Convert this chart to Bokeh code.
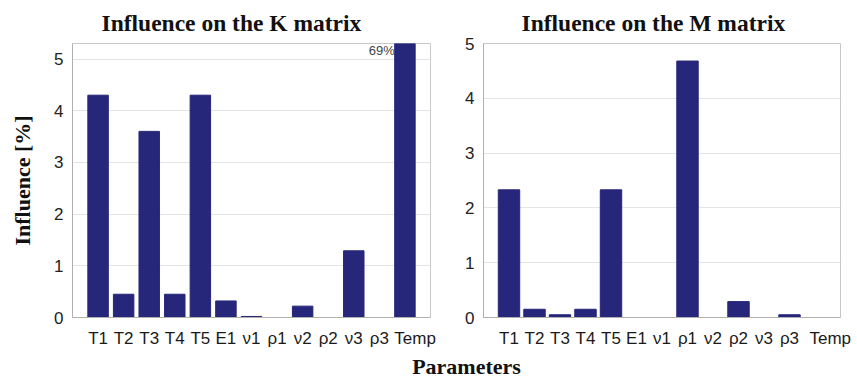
from bokeh.plotting import figure
from bokeh.models import Range1d, FixedTicker, ColumnDataSource
from bokeh.layouts import column, row
from bokeh.embed import file_html
from bokeh.resources import INLINE
from bokeh.core.properties import value

# ---- data ----
params = ["T1", "T2", "T3", "T4", "T5", "E1", "ν1", "ρ1", "ν2", "ρ2", "ν3", "ρ3", "Temp"]
k_values = [4.3, 0.45, 3.6, 0.45, 4.3, 0.32, 0.02, 0.0, 0.22, 0.0, 1.29, 0.0, 69.0]
m_values = [2.33, 0.15, 0.05, 0.15, 2.33, 0.0, 0.0, 4.68, 0.0, 0.29, 0.0, 0.05, 0.0]
y_ticks = [0, 1, 2, 3, 4, 5]
k_title = "Influence on the K matrix"
m_title = "Influence on the M matrix"
y_label = "Influence [%]"
x_label = "Parameters"
temp_note = "69%"

BAR = "#26267a"
SANS = "Liberation Sans"
SERIF = "Liberation Serif"


def make_chart(vals, title, ymax, bar_w, width, b_left, b_right, t_off, ylab, last_shift):
    xs = list(range(1, len(params) + 1))
    p = figure(width=width, height=350, output_backend="svg", toolbar_location=None,
               x_range=Range1d(0, len(params) + 1), y_range=Range1d(0, ymax),
               min_border_left=b_left, min_border_right=b_right,
               min_border_top=43, min_border_bottom=24)
    p.title.text = title
    p.title.text_font = SERIF
    p.title.text_font_style = "bold"
    p.title.text_font_size = "23.5px"
    p.title.align = "left"
    p.title.offset = t_off
    p.title.standoff = 15
    p.title.text_color = "#111111"

    src = ColumnDataSource(dict(x=xs, top=vals))
    p.vbar(x="x", top="top", width=bar_w, bottom=0, source=src,
           fill_color=BAR, line_color=BAR)

    p.outline_line_color = "#c8c8c8"
    p.xgrid.grid_line_color = None
    p.ygrid.grid_line_color = "#e4e4e4"
    p.ygrid.ticker = FixedTicker(ticks=y_ticks)

    p.yaxis.ticker = FixedTicker(ticks=y_ticks)
    p.yaxis.axis_line_color = "#b0b0b0"
    p.yaxis.major_tick_line_color = None
    p.yaxis.minor_tick_line_color = None
    p.yaxis.major_label_standoff = 3
    p.yaxis.major_label_text_font = SANS
    p.yaxis.major_label_text_font_size = "17px"
    p.yaxis.major_label_text_color = "#222222"
    if ylab:
        p.yaxis.axis_label = y_label
        p.yaxis.axis_label_text_font = SERIF
        p.yaxis.axis_label_text_font_style = "bold"
        p.yaxis.axis_label_text_font_size = "22px"
        p.yaxis.axis_label_standoff = 16
        p.yaxis.axis_label_text_color = "#111111"

    # label positions: bar centres, the long last label nudged right as in the source
    tick_pos = xs[:-1] + [xs[-1] + last_shift]
    p.xaxis.ticker = FixedTicker(ticks=tick_pos)
    p.xaxis.major_label_overrides = {x: s for x, s in zip(tick_pos, params)}
    p.xaxis.axis_line_color = "#b0b0b0"
    p.xaxis.major_tick_line_color = None
    p.xaxis.minor_tick_line_color = None
    p.xaxis.major_label_standoff = 5
    p.xaxis.major_label_text_font = SANS
    p.xaxis.major_label_text_font_size = "17px"
    p.xaxis.major_label_text_color = "#1a1a1a"
    p.toolbar.logo = None
    return p, xs


p1, xs = make_chart(k_values, k_title, 5.3, 0.8, 440, 72, 10, 29, True, 0.4)
p1.text(x=[xs[-1] - 0.4], y=[5.3], text=[temp_note], text_align="right",
        text_baseline="middle", y_offset=7, text_font=value(SANS),
        text_font_size="13px", text_color="#444444")

p2, _ = make_chart(m_values, m_title, 5.0, 0.84, 417, 43, 17, 38, False, 0.6)

p3 = figure(width=857, height=32, output_backend="svg", toolbar_location=None,
            x_range=Range1d(0, 857), y_range=Range1d(0, 32),
            min_border=0)
p3.axis.visible = False
p3.grid.visible = False
p3.outline_line_color = None
p3.text(x=[466], y=[16], text=[x_label], text_align="center", text_baseline="middle",
        text_font=value(SERIF), text_font_style="bold", text_font_size="22px",
        text_color="#111111")

layout = column(row(p1, p2), p3)
open("out.html", "w").write(file_html(layout, INLINE))
